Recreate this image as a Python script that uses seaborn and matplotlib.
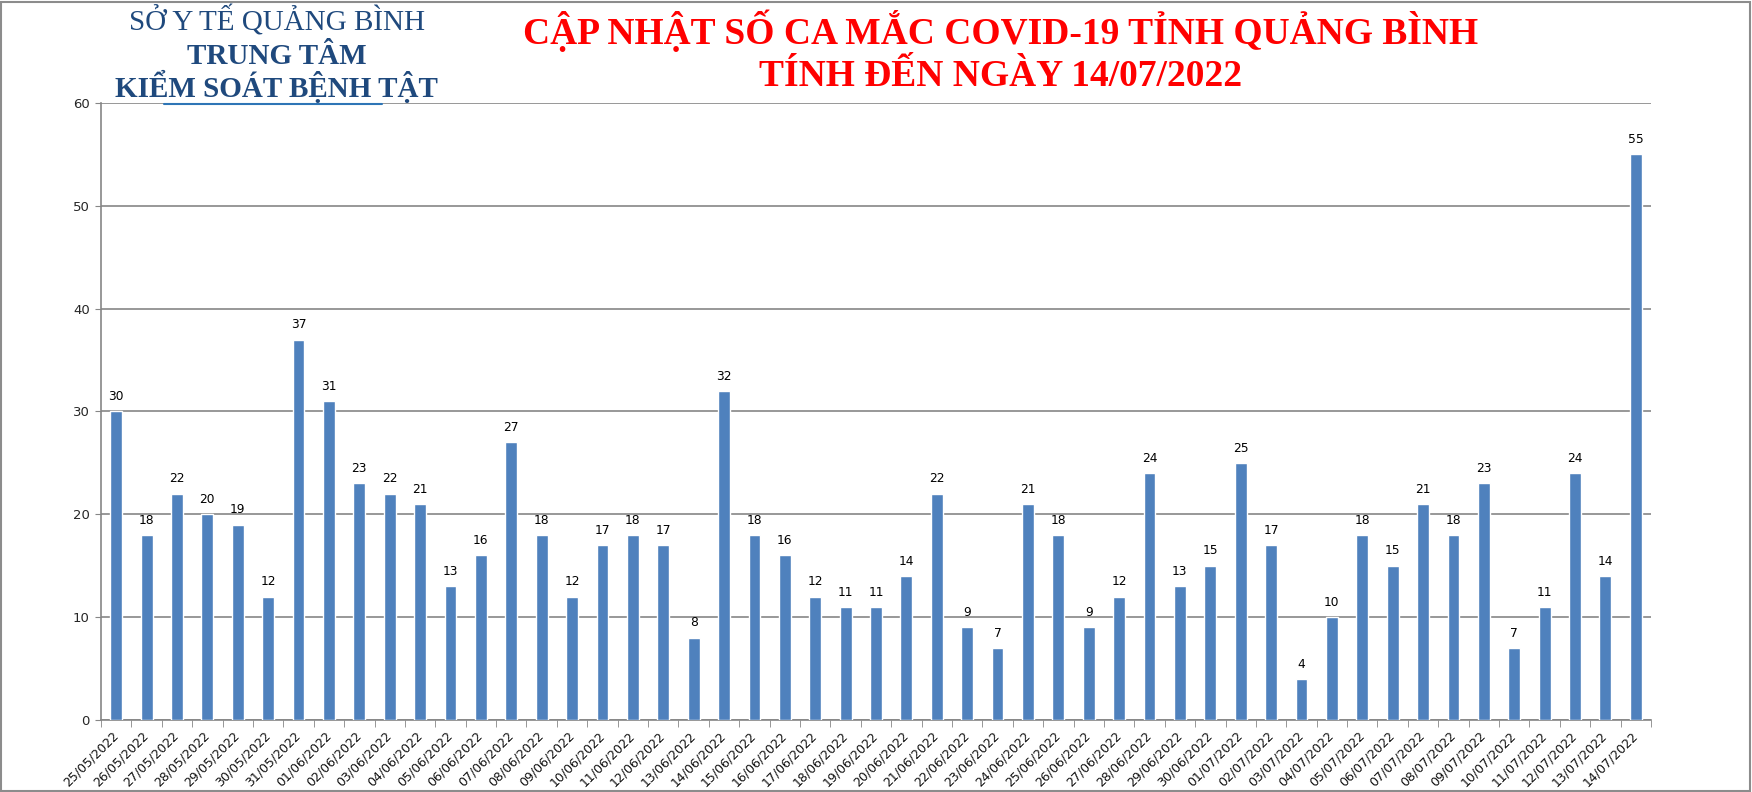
import numpy as np
import pandas as pd
import matplotlib
matplotlib.use("Agg")
import matplotlib.pyplot as plt
import seaborn as sns
from matplotlib.lines import Line2D
from matplotlib.patches import Rectangle

# Daily new cases, 25/05/2022 - 14/07/2022
dates = (
    [f"{d:02d}/05/2022" for d in range(25, 32)]
    + [f"{d:02d}/06/2022" for d in range(1, 31)]
    + [f"{d:02d}/07/2022" for d in range(1, 15)]
)
cases = [30, 18, 22, 20, 19, 12, 37, 31, 23, 22, 21, 13, 16, 27, 18, 12, 17,
         18, 17, 8, 32, 18, 16, 12, 11, 11, 14, 22, 9, 7, 21, 18, 9, 12, 24,
         13, 15, 25, 17, 4, 10, 18, 15, 21, 18, 23, 7, 11, 24, 14, 55]
y_ticks = [0, 10, 20, 30, 40, 50, 60]

df = pd.DataFrame({"date": dates, "cases": cases})

sns.set_style("white")
plt.rcParams["font.family"] = ["DejaVu Sans"]

fig = plt.figure(figsize=(17.52, 7.92), dpi=100)
ax = fig.add_axes([101 / 1752, 1 - 720 / 792, 1550 / 1752, 617 / 792])

sns.barplot(data=df, x="date", y="cases", color="#4F81BD", saturation=1,
            width=0.39, ax=ax, zorder=3)

for c in ax.containers:
    ax.bar_label(c, padding=6, fontsize=8.8, color="#000000")

ax.set_xlim(-0.5, len(dates) - 0.5)
ax.set_ylim(0, 60)
ax.set_yticks(y_ticks)
ax.set_xlabel("")
ax.set_ylabel("")
ax.yaxis.grid(True, color="#868686", linewidth=1.2, zorder=0)
ax.xaxis.grid(False)

for s in ["top", "right"]:
    ax.spines[s].set_visible(False)
for s in ["left", "bottom"]:
    ax.spines[s].set_color("#868686")
    ax.spines[s].set_linewidth(1.2)

ax.tick_params(axis="y", length=4, color="#868686", labelsize=9.5, pad=4,
               direction="out", left=True)
ax.set_xticks(range(len(dates)))
ax.set_xticklabels(dates, rotation=45, ha="right", va="center",
                   rotation_mode="anchor", fontsize=9, color="#111111")
ax.tick_params(axis="x", which="major", length=0, pad=10)
ax.set_xticks(np.arange(-0.5, len(dates)), minor=True)
ax.tick_params(axis="x", which="minor", length=5, color="#868686",
               direction="out", bottom=True)

# headers
hdr = dict(ha="center", va="baseline", family="Liberation Serif",
           fontsize=21, color="#1F497D")
fig.text(0.158, 0.962, "SỞ Y TẾ QUẢNG BÌNH", **hdr)
fig.text(0.158, 0.919, "TRUNG TÂM", fontweight="bold", **hdr)
fig.text(0.158, 0.877, "KIỂM SOÁT BỆNH TẬT", fontweight="bold", **hdr)
fig.add_artist(Line2D([164 / 1752, 382 / 1752], [1 - 104 / 792, 1 - 104 / 792],
                      color="#2E75B6", linewidth=1.5))

ttl = dict(ha="center", va="baseline", family="Liberation Serif",
           fontsize=27, fontweight="bold", color="#FF0000")
fig.text(0.571, 0.945, "CẬP NHẬT SỐ CA MẮC COVID-19 TỈNH QUẢNG BÌNH", **ttl)
fig.text(0.571, 0.892, "TÍNH ĐẾN NGÀY 14/07/2022", **ttl)

fig.add_artist(Rectangle((0.0008, 0.001), 0.998, 0.997, transform=fig.transFigure,
                         fill=False, edgecolor="#8C8C8C", linewidth=1.5))

fig.savefig("out.png", dpi=100)
